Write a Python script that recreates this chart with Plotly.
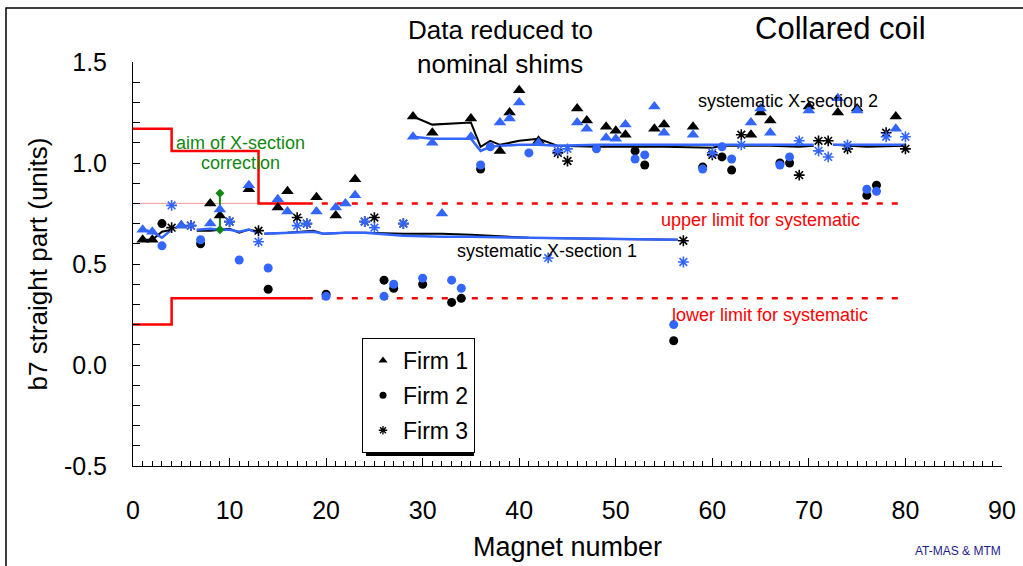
import plotly.graph_objects as go

# ---------------- data ----------------
firm1_x = [1, 2, 5, 8, 9, 12, 15, 16, 19, 21, 22, 23, 29, 31, 32, 35, 38, 39, 40, 42,
           46, 47, 49, 50, 51, 54, 55, 58, 64, 65, 66, 70, 73, 75, 79]
firm1_black = [0.62, 0.62, 0.69, 0.80, 0.74, 0.87, 0.78, 0.86, 0.83, 0.74, None, 0.92,
               1.23, 1.15, None, 1.22, 1.06, 1.25, 1.36, 1.11,
               1.27, 1.21, 1.18, 1.16, 1.14, 1.17, 1.19, 1.18, 1.14, 1.25, 1.21, 1.28, 1.25, 1.27, 1.23]
firm1_blue = [0.67, 0.66, 0.69, 0.70, 0.77, 0.89, 0.82, 0.76, 0.76, 0.78, 0.80, 0.84,
              1.13, 1.10, 0.75, 1.13, 1.20, 1.22, 1.30, 1.10,
              1.20, 1.17, 1.125, 1.12, 1.19, 1.28, 1.15, 1.14, 1.20, 1.27, 1.15, 1.26, 1.32, 1.26, 1.17]

firm2_x = [3, 7, 11, 14, 20, 26, 27, 30, 33, 34, 36, 37, 41, 48, 52, 53, 56, 59, 61, 62, 67, 68, 76, 77]
firm2_black = [0.70, 0.60, None, 0.375, 0.35, 0.42, 0.38, 0.40, 0.31, 0.33, 0.97, None, None, None,
               1.06, 0.99, 0.12, 0.98, 1.03, 0.965, 1.00, 1.00, 0.84, 0.89]
firm2_blue = [0.59, 0.62, 0.52, 0.48, 0.34, 0.34, 0.40, 0.43, 0.42, 0.38, 0.99, 1.08, 1.05, 1.07,
              1.02, 1.04, 0.20, 0.97, 1.08, 1.02, 0.99, 1.03, 0.87, 0.86]

firm3_x = [4, 6, 10, 13, 17, 18, 24, 25, 28, 43, 44, 45, 57, 60, 63, 69, 71, 72, 74, 78, 80]
firm3_black = [0.68, 0.69, 0.71, 0.665, 0.73, 0.70, 0.71, 0.73, 0.70, None, 1.05, 1.01, 0.615,
               1.04, 1.14, 0.94, 1.11, 1.11, 1.07, 1.15, 1.07]
firm3_blue = [0.79, 0.69, 0.71, 0.61, 0.69, 0.70, 0.71, 0.68, 0.70, 0.53, 1.06, 1.07, 0.51,
              1.05, 1.09, 1.11, 1.06, 1.03, 1.09, 1.13, 1.13]

# systematic X-section 1 (None = gap)
sys1_x = [1, 2, 3, 4, None, 6.6, 8, 9, 10, 11, 12, 13, None, 13.6, 16, 18.7, 19.7, 22, 24, 28, 32, 35, 41, 48, 56.4]
sys1_black = [0.62, 0.62, 0.66, 0.67, None, 0.665, 0.665, 0.67, 0.675, 0.655, 0.67, 0.66, None,
              0.65, 0.655, 0.665, 0.65, 0.655, 0.655, 0.65, 0.65, 0.645, 0.63, 0.625, 0.62]
sys1_blue = [0.67, 0.66, 0.63, 0.67, None, 0.67, 0.675, 0.67, 0.67, 0.66, 0.67, 0.655, None,
             0.65, 0.655, 0.66, 0.65, 0.655, 0.655, 0.64, 0.635, 0.635, 0.63, 0.625, 0.62]

# systematic X-section 2
sys2_x = [29, 31, 35, 36, 37, 38, 40, 42, 44, 48, 55, 60, 61, 66, 69, 70.5, None, 72.5, 74, 76, 80]
sys2_black = [1.23, 1.19, 1.20, 1.08, 1.11, 1.09, 1.11, 1.12, 1.085, 1.08, 1.08, 1.075, 1.085,
              1.085, 1.08, 1.085, None, 1.09, 1.085, 1.08, 1.085]
sys2_blue = [1.13, 1.12, 1.12, 1.06, 1.08, 1.085, 1.09, 1.09, 1.085, 1.09, 1.09, 1.09, 1.09,
             1.09, 1.09, 1.09, None, 1.09, 1.09, 1.09, 1.09]

# aim of X-section correction (steps) and limits for systematic
aim_upper_x = [0, 4, 13, 18]
aim_upper_y = [1.17, 1.06, 0.80, 0.80]
aim_lower_x = [0, 4, 18]
aim_lower_y = [0.20, 0.33, 0.33]
limit_x = [18, 80]
upper_limit = [0.80, 0.80]
lower_limit = [0.33, 0.33]
ref_line_x = [0, 18]
ref_line_y = [0.80, 0.80]
aim_arrow_x = [9, 9]
aim_arrow_y = [0.67, 0.85]

x_ticks = list(range(0, 91, 10))
y_ticks = [-0.5, 0.0, 0.5, 1.0, 1.5]
y_tick_labels = ["-0.5", "0.0", "0.5", "1.0", "1.5"]

BLUE = "#3366ff"
RED = "#ff0000"
GREEN = "#118811"
FONT = "Liberation Sans, Arial, sans-serif"

fig = go.Figure()

fig.add_trace(go.Scatter(x=ref_line_x, y=ref_line_y, mode="lines",
                         line=dict(color="#ff9a9a", width=1), showlegend=False, hoverinfo="skip"))
fig.add_trace(go.Scatter(x=aim_upper_x, y=aim_upper_y, mode="lines", line_shape="hv",
                         line=dict(color=RED, width=2.5), showlegend=False, hoverinfo="skip"))
fig.add_trace(go.Scatter(x=aim_lower_x, y=aim_lower_y, mode="lines", line_shape="hv",
                         line=dict(color=RED, width=2.5), showlegend=False, hoverinfo="skip"))
for yy in (upper_limit, lower_limit):
    fig.add_trace(go.Scatter(x=limit_x, y=yy, mode="lines",
                             line=dict(color=RED, width=2.5, dash="6px,9px"),
                             showlegend=False, hoverinfo="skip"))

fig.add_trace(go.Scatter(x=sys1_x, y=sys1_black, mode="lines", connectgaps=False,
                         line=dict(color="black", width=2), showlegend=False))
fig.add_trace(go.Scatter(x=sys1_x, y=sys1_blue, mode="lines", connectgaps=False,
                         line=dict(color=BLUE, width=2.5), showlegend=False))
fig.add_trace(go.Scatter(x=sys2_x, y=sys2_black, mode="lines", connectgaps=False,
                         line=dict(color="black", width=2), showlegend=False))
fig.add_trace(go.Scatter(x=sys2_x, y=sys2_blue, mode="lines", connectgaps=False,
                         line=dict(color=BLUE, width=2.5), showlegend=False))

fig.add_trace(go.Scatter(x=aim_arrow_x, y=aim_arrow_y, mode="lines+markers",
                         line=dict(color=GREEN, width=2),
                         marker=dict(symbol="diamond", size=7, color=GREEN),
                         showlegend=False))

tri = dict(symbol="triangle-up", size=11)
cir = dict(symbol="circle", size=9)
ast = dict(symbol="asterisk-open", size=9)

for xs, ys, m, col in [
    (firm1_x, firm1_black, tri, "black"),
    (firm2_x, firm2_black, cir, "black"),
    (firm3_x, firm3_black, ast, "black"),
    (firm1_x, firm1_blue, tri, BLUE),
    (firm2_x, firm2_blue, cir, BLUE),
    (firm3_x, firm3_blue, ast, BLUE),
]:
    mk = dict(m, color=col)
    if m["symbol"].startswith("asterisk"):
        mk["line"] = dict(color=col, width=1.6)
    fig.add_trace(go.Scatter(x=xs, y=ys, mode="markers", marker=mk, showlegend=False))

for name, m, grp in [("Firm 1", dict(symbol="triangle-up", size=8), "g1"),
                     ("Firm 2", dict(symbol="circle", size=7), "g2"),
                     ("Firm 3", dict(symbol="asterisk-open", size=7, line=dict(color="black", width=1.3)), "g3")]:
    fig.add_trace(go.Scatter(x=[None], y=[None], mode="markers", name=name, legendgroup=grp,
                             marker=dict(m, color="black")))

# ---------------- layout ----------------
L, R, T, B = 133, 21, 62, 100
W, H = 1023, 566
pw, ph = W - L - R, H - T - B


def px2paper_x(px):
    return (px - L) / pw


def px2paper_y(py):
    return (H - B - py) / ph


shapes = [
    dict(type="rect", xref="paper", yref="paper", x0=px2paper_x(6), x1=1.2,
         y0=-0.4, y1=px2paper_y(8), line=dict(color="black", width=1.5), layer="below"),
    dict(type="rect", xref="paper", yref="paper", x0=px2paper_x(366), x1=px2paper_x(474),
         y0=px2paper_y(456), y1=px2paper_y(342), fillcolor="black", line=dict(width=0), layer="above"),
]


def note(x, y, text, size, color="black", ref="data"):
    d = dict(x=x, y=y, text=text, showarrow=False, xanchor="center", yanchor="middle",
             font=dict(color=color, size=size))
    if ref == "paper":
        d.update(xref="paper", yref="paper")
    return d


annotations = [
    note(11.1, 1.10, "aim of X-section", 18, GREEN),
    note(11.1, 1.00, "correction", 18, GREEN),
    note(42.9, 0.565, "systematic X-section 1", 18),
    note(67.8, 1.307, "systematic X-section 2", 18),
    note(65.0, 0.72, "upper limit for systematic", 18, RED),
    note(66.0, 0.25, "lower limit for systematic", 18, RED),
    note(px2paper_x(500), px2paper_y(30), "Data reduced to", 26, ref="paper"),
    note(px2paper_x(500), px2paper_y(64), "nominal shims", 26, ref="paper"),
    note(px2paper_x(840), px2paper_y(29), "Collared coil", 31, ref="paper"),
    note(px2paper_x(958), px2paper_y(551), "AT-MAS & MTM", 12, "#1c1c8a", ref="paper"),
]

fig.update_layout(
    width=W, height=H,
    margin=dict(l=L, r=R, t=T, b=B, autoexpand=False),
    paper_bgcolor="white", plot_bgcolor="white",
    font=dict(family=FONT, color="black"),
    shapes=shapes, annotations=annotations,
    showlegend=True,
    legend=dict(x=px2paper_x(362), y=px2paper_y(338), xanchor="left", yanchor="top",
                bgcolor="white", bordercolor="black", borderwidth=1,
                font=dict(size=23), tracegroupgap=2, traceorder="grouped",
                itemwidth=30),
    xaxis=dict(range=[0, 90], tickvals=x_ticks, showline=True, linecolor="black", linewidth=1,
               ticks="inside", ticklen=8, tickcolor="black", showgrid=False, zeroline=False,
               tickfont=dict(size=25), ticklabelstandoff=22, automargin=False,
               minor=dict(dtick=1, ticks="inside", ticklen=5, tickcolor="black", showgrid=False),
               title=dict(text="Magnet number", font=dict(size=27), standoff=14)),
    yaxis=dict(range=[-0.5, 1.5], tickvals=y_ticks, ticktext=y_tick_labels, showline=True,
               linecolor="black", linewidth=1, ticks="inside", ticklen=7, tickcolor="black",
               showgrid=False, zeroline=False, tickfont=dict(size=25), ticklabelstandoff=20,
               automargin=False,
               minor=dict(dtick=0.1, ticks="inside", ticklen=7, tickcolor="black", showgrid=False),
               title=dict(text="b7 straight part (units)", font=dict(size=26), standoff=8)),
)

fig.write_html("out.html")
